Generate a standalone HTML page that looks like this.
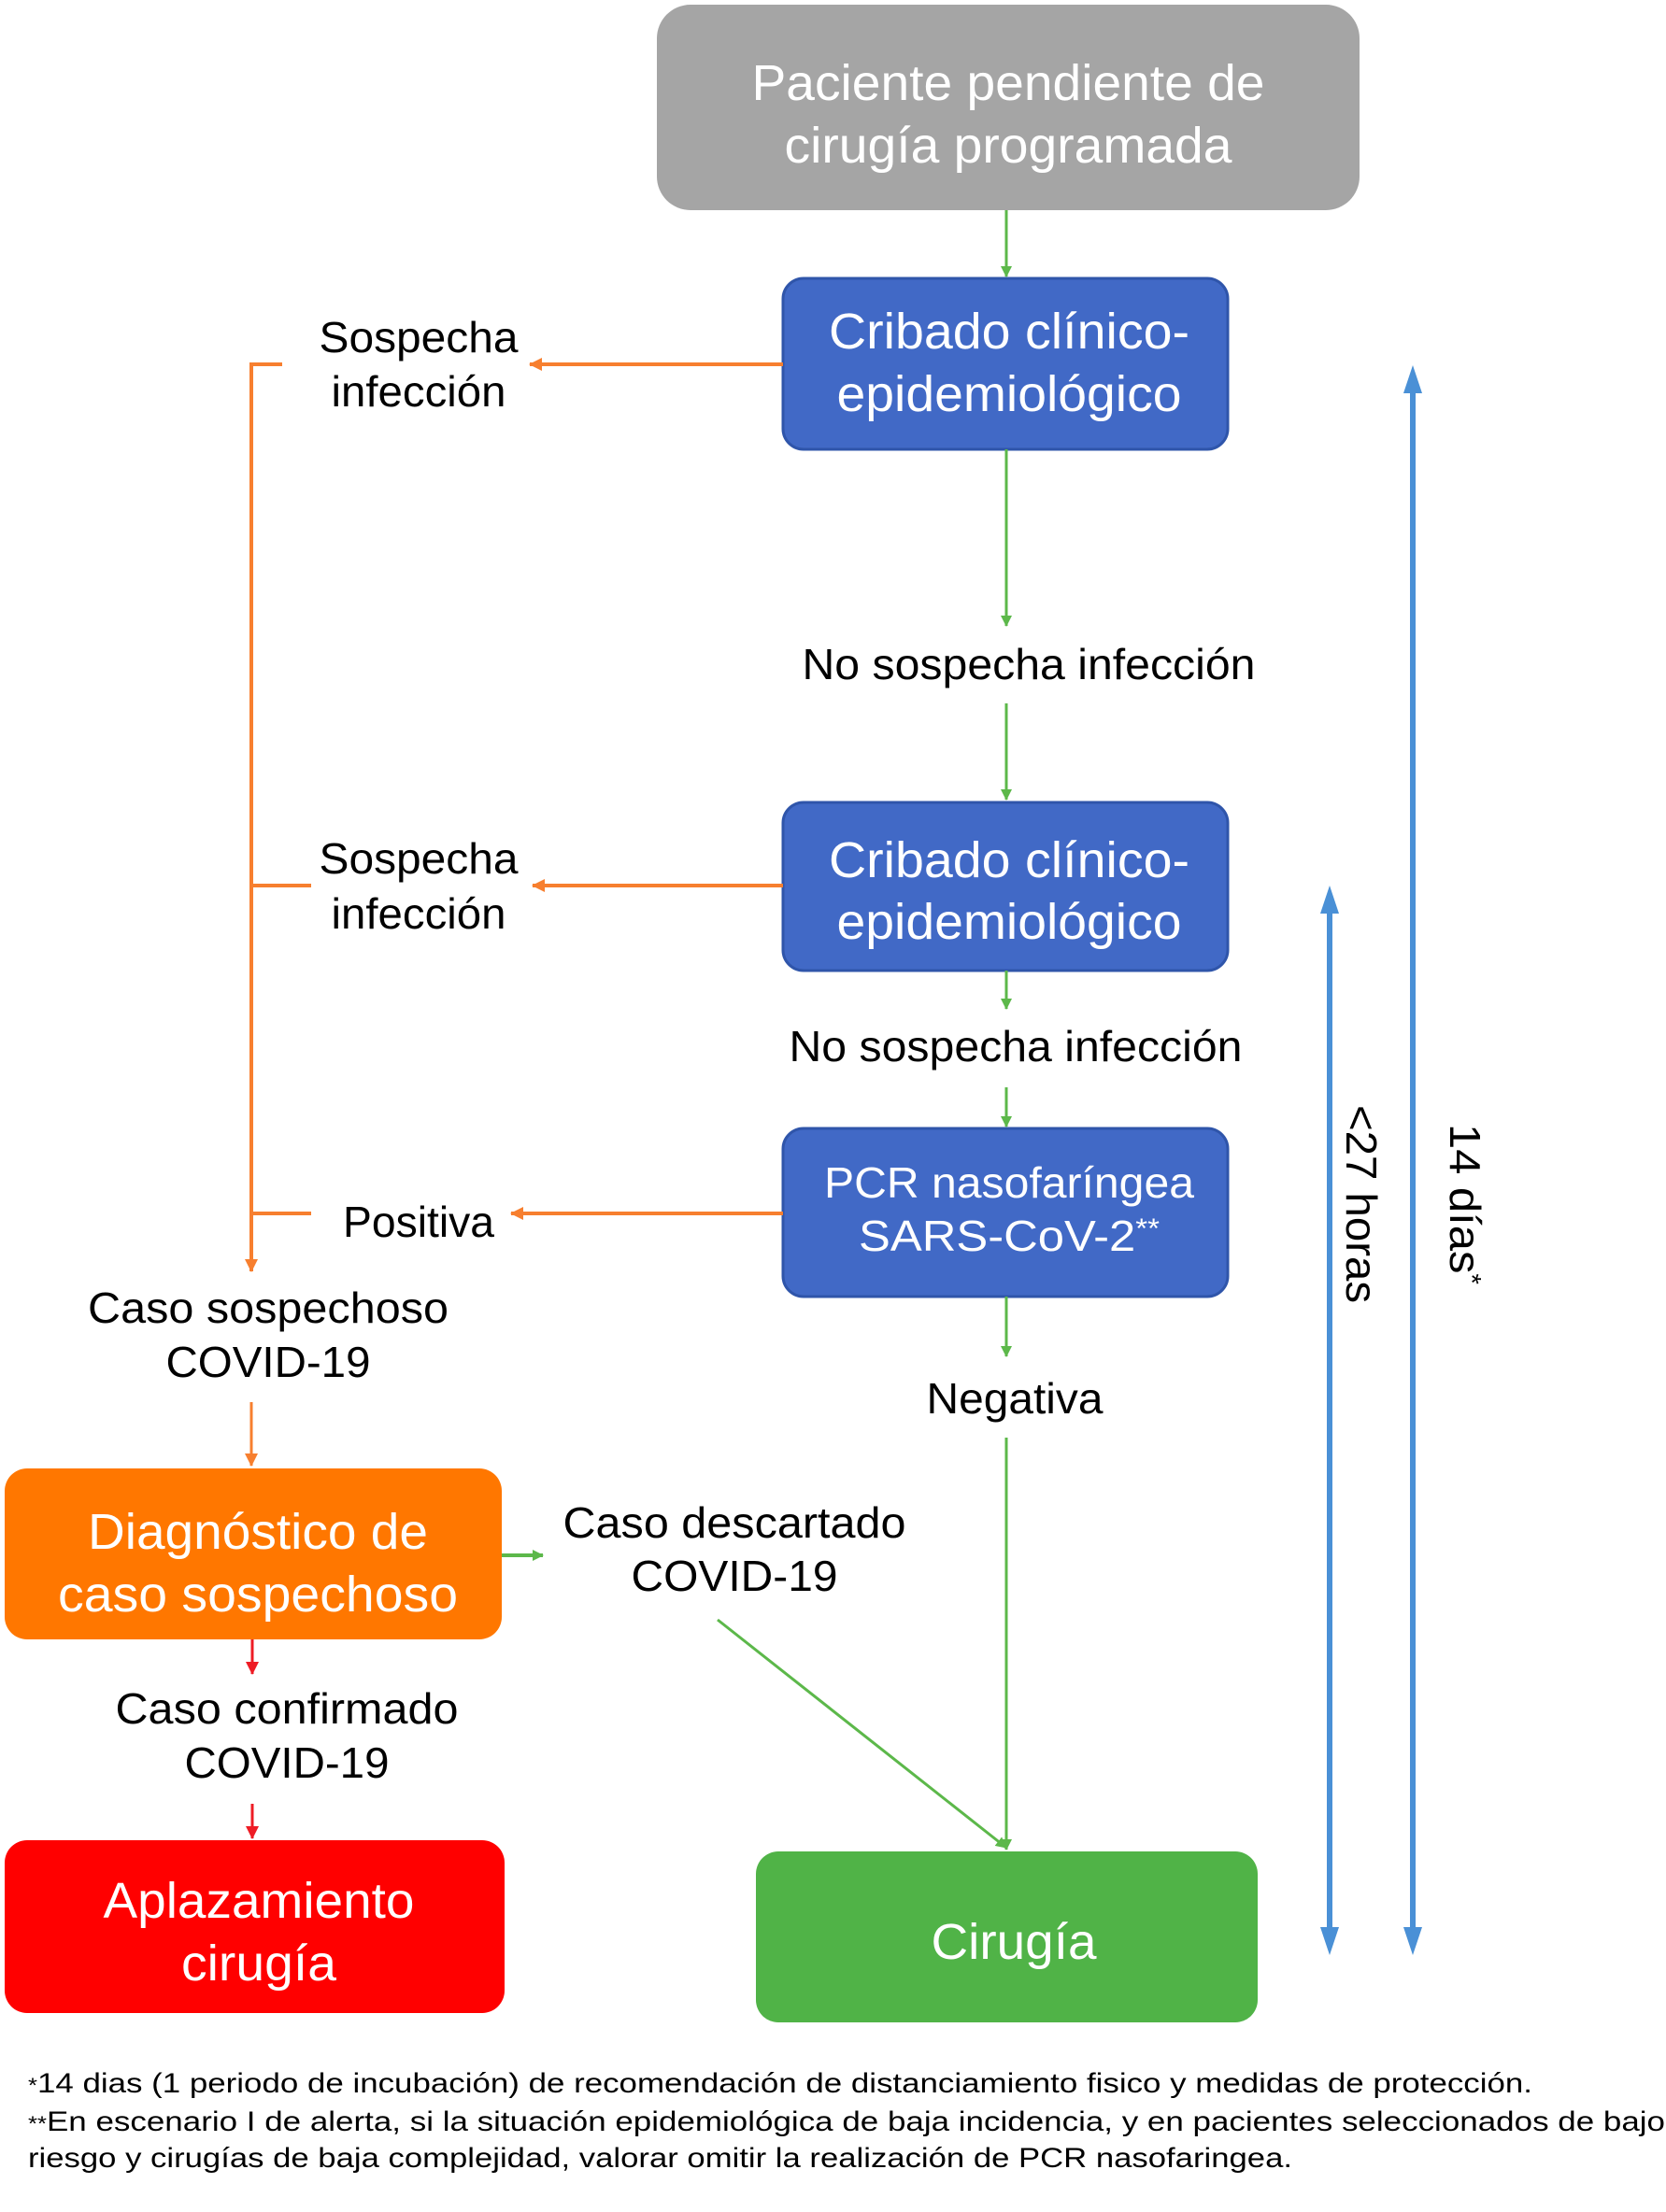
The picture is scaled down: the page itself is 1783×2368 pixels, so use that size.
<!DOCTYPE html>
<html><head><meta charset="utf-8"><style>html,body{margin:0;padding:0;background:#fff}svg{display:block}</style></head>
<body>
<svg width="1783" height="2368" viewBox="0 0 1783 2368" xmlns="http://www.w3.org/2000/svg" font-family="Liberation Sans, Arial, sans-serif">
<defs>
<marker id="ag" markerWidth="12" markerHeight="12" refX="11" refY="6" orient="auto" markerUnits="userSpaceOnUse"><path d="M0,0 L12,6 L0,12 Z" fill="#5cb84a"/></marker>
<marker id="ao" markerWidth="14" markerHeight="14" refX="13" refY="7" orient="auto" markerUnits="userSpaceOnUse"><path d="M0,0 L14,7 L0,14 Z" fill="#f77f2f"/></marker>
<marker id="ar" markerWidth="14" markerHeight="14" refX="13" refY="7" orient="auto" markerUnits="userSpaceOnUse"><path d="M0,0 L14,7 L0,14 Z" fill="#ee1c25"/></marker>
</defs>

<rect x="703" y="5" width="752" height="220" rx="36" fill="#a5a5a5"/>
<rect x="838" y="298" width="476" height="183" rx="22" fill="#4169c6" stroke="#2f55aa" stroke-width="3"/>
<rect x="838" y="859" width="476" height="180" rx="22" fill="#4169c6" stroke="#2f55aa" stroke-width="3"/>
<rect x="838" y="1208" width="476" height="180" rx="22" fill="#4169c6" stroke="#2f55aa" stroke-width="3"/>
<rect x="5" y="1572" width="532" height="183" rx="24" fill="#ff7700"/>
<rect x="5" y="1970" width="535" height="185" rx="24" fill="#ff0000"/>
<rect x="809" y="1982" width="537" height="183" rx="24" fill="#50b347"/>

<g stroke="#5cb84a" stroke-width="3" fill="none">
<line x1="1077" y1="225" x2="1077" y2="296" marker-end="url(#ag)"/>
<line x1="1077" y1="481" x2="1077" y2="670" marker-end="url(#ag)"/>
<line x1="1077" y1="753" x2="1077" y2="856" marker-end="url(#ag)"/>
<line x1="1077" y1="1039" x2="1077" y2="1080" marker-end="url(#ag)"/>
<line x1="1077" y1="1164" x2="1077" y2="1206" marker-end="url(#ag)"/>
<line x1="1077" y1="1388" x2="1077" y2="1452" marker-end="url(#ag)"/>
<line x1="1077" y1="1539" x2="1077" y2="1980" marker-end="url(#ag)"/>
<line x1="768" y1="1734" x2="1077" y2="1978" marker-end="url(#ag)"/>
<line x1="537" y1="1665" x2="581" y2="1665" stroke-width="4" marker-end="url(#ag)"/>
</g>

<g stroke="#f77f2f" stroke-width="4" fill="none">
<line x1="838" y1="390" x2="567" y2="390" marker-end="url(#ao)"/>
<line x1="838" y1="948" x2="570" y2="948" marker-end="url(#ao)"/>
<line x1="838" y1="1299" x2="547" y2="1299" marker-end="url(#ao)"/>
<polyline points="302,390 269,390 269,1361" marker-end="url(#ao)"/>
<line x1="269" y1="948" x2="333" y2="948"/>
<line x1="269" y1="1299" x2="333" y2="1299"/>
<line x1="269" y1="1501" x2="269" y2="1569" stroke-width="3" marker-end="url(#ao)"/>
</g>

<g stroke="#ee1c25" stroke-width="3" fill="none">
<line x1="270" y1="1755" x2="270" y2="1792" marker-end="url(#ar)"/>
<line x1="270" y1="1931" x2="270" y2="1968" marker-end="url(#ar)"/>
</g>

<g stroke="#4a90d6" stroke-width="6" fill="none">
<line x1="1423" y1="2070" x2="1423" y2="972"/>
<line x1="1512" y1="2070" x2="1512" y2="415"/>
</g>
<g fill="#4a90d6">
<path d="M1423,948 L1413,978 L1433,978 Z"/>
<path d="M1423,2093 L1413,2063 L1433,2063 Z"/>
<path d="M1512,391 L1502,421 L1522,421 Z"/>
<path d="M1512,2093 L1502,2063 L1522,2063 Z"/>
</g>

<g fill="#fff" font-size="54" text-anchor="middle">
<text x="1079" y="107" textLength="549" lengthAdjust="spacingAndGlyphs">Paciente pendiente de</text>
<text x="1079" y="174" textLength="479" lengthAdjust="spacingAndGlyphs">cirugía programada</text>
<text x="1080" y="373" textLength="386" lengthAdjust="spacingAndGlyphs">Cribado clínico-</text>
<text x="1080" y="440" textLength="369" lengthAdjust="spacingAndGlyphs">epidemiológico</text>
<text x="1080" y="939" textLength="386" lengthAdjust="spacingAndGlyphs">Cribado clínico-</text>
<text x="1080" y="1005" textLength="369" lengthAdjust="spacingAndGlyphs">epidemiológico</text>
<text x="1080" y="1282" font-size="46" textLength="396" lengthAdjust="spacingAndGlyphs">PCR nasofaríngea</text>
<text x="1080" y="1339" font-size="46" textLength="322" lengthAdjust="spacingAndGlyphs">SARS-CoV-2<tspan font-size="30" dy="-14">**</tspan></text>
<text x="276" y="1658" textLength="364" lengthAdjust="spacingAndGlyphs">Diagnóstico de</text>
<text x="276" y="1725" textLength="428" lengthAdjust="spacingAndGlyphs">caso sospechoso</text>
<text x="277" y="2053" textLength="333" lengthAdjust="spacingAndGlyphs">Aplazamiento</text>
<text x="277" y="2120" textLength="166" lengthAdjust="spacingAndGlyphs">cirugía</text>
<text x="1085" y="2097" textLength="177" lengthAdjust="spacingAndGlyphs">Cirugía</text>
</g>

<g fill="#000" font-size="46" text-anchor="middle">
<text x="448" y="377" textLength="213" lengthAdjust="spacingAndGlyphs">Sospecha</text>
<text x="448" y="435" textLength="187" lengthAdjust="spacingAndGlyphs">infección</text>
<text x="1101" y="727" textLength="485" lengthAdjust="spacingAndGlyphs">No sospecha infección</text>
<text x="448" y="935" textLength="213" lengthAdjust="spacingAndGlyphs">Sospecha</text>
<text x="448" y="994" textLength="187" lengthAdjust="spacingAndGlyphs">infección</text>
<text x="1087" y="1136" textLength="485" lengthAdjust="spacingAndGlyphs">No sospecha infección</text>
<text x="448" y="1324" textLength="162" lengthAdjust="spacingAndGlyphs">Positiva</text>
<text x="287" y="1416" textLength="386" lengthAdjust="spacingAndGlyphs">Caso sospechoso</text>
<text x="287" y="1474" textLength="219" lengthAdjust="spacingAndGlyphs">COVID-19</text>
<text x="1086" y="1513" textLength="189" lengthAdjust="spacingAndGlyphs">Negativa</text>
<text x="786" y="1646" textLength="367" lengthAdjust="spacingAndGlyphs">Caso descartado</text>
<text x="786" y="1703" textLength="221" lengthAdjust="spacingAndGlyphs">COVID-19</text>
<text x="307" y="1845" textLength="367" lengthAdjust="spacingAndGlyphs">Caso confirmado</text>
<text x="307" y="1903" textLength="219" lengthAdjust="spacingAndGlyphs">COVID-19</text>
<text transform="translate(1441,1289) rotate(90)" textLength="212" lengthAdjust="spacingAndGlyphs">&lt;27 horas</text>
<text transform="translate(1552,1289) rotate(90)" textLength="172" lengthAdjust="spacingAndGlyphs">14 días<tspan font-size="28" dy="-14">*</tspan></text>
</g>

<g fill="#000" font-size="30">
<text x="30" y="2240" textLength="1610" lengthAdjust="spacingAndGlyphs"><tspan font-size="22">*</tspan>14 dias (1 periodo de incubación) de recomendación de distanciamiento fisico y medidas de protección.</text>
<text x="30" y="2281" textLength="1752" lengthAdjust="spacingAndGlyphs"><tspan font-size="22">**</tspan>En escenario I de alerta, si la situación epidemiológica de baja incidencia, y en pacientes seleccionados de bajo</text>
<text x="30" y="2320" textLength="1353" lengthAdjust="spacingAndGlyphs">riesgo y cirugías de baja complejidad, valorar omitir la realización de PCR nasofaringea.</text>
</g>
</svg>
</body></html>
